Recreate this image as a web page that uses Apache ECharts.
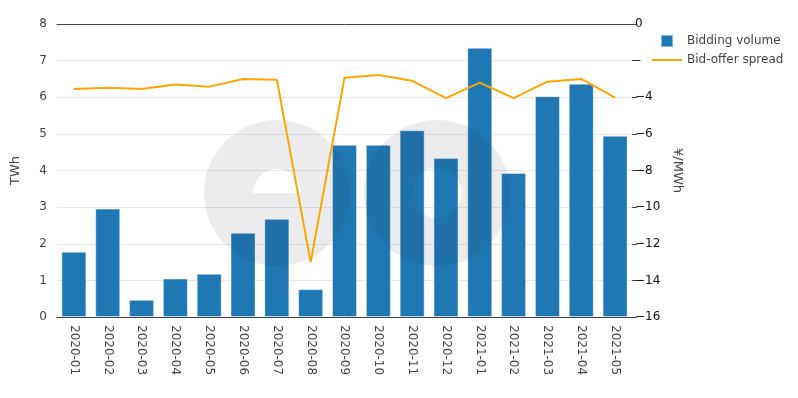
<!DOCTYPE html>
<html>
<head>
<meta charset="utf-8">
<script src="https://cdn.jsdelivr.net/npm/echarts@6/dist/echarts.min.js"></script>
<style>
  html, body { margin: 0; padding: 0; background: #fff; }
  #container { width: 798px; height: 398px; }
</style>
</head>
<body>
<div id="container"></div>
<script>
var months = ['2020-01', '2020-02', '2020-03', '2020-04', '2020-05', '2020-06', '2020-07', '2020-08', '2020-09',
  '2020-10', '2020-11', '2020-12', '2021-01', '2021-02', '2021-03', '2021-04', '2021-05'];
var biddingVolume = [1.78, 2.96, 0.47, 1.05, 1.18, 2.3, 2.68, 0.76, 4.7, 4.7, 5.1, 4.34, 7.35, 3.93, 6.03, 6.37, 4.95];
var bidOfferSpread = [-3.55, -3.48, -3.55, -3.3, -3.42, -3.0, -3.04, -13.0, -2.93, -2.79, -3.1, -4.05, -3.2, -4.05, -3.15, -3.0, -4.02];

var chartDom = document.getElementById('container');
var myChart = echarts.init(chartDom);
var font = 'DejaVu Sans, Verdana, sans-serif';
var shade = 'rgba(40, 40, 70, 0.09)';
var option;

option = {
  animation: false,
  textStyle: { fontFamily: font },
  grid: { left: 57, right: 166, top: 24, bottom: 81 },
  legend: {
    orient: 'vertical',
    left: 647,
    top: 29,
    itemWidth: 30,
    itemHeight: 12,
    itemGap: 6,
    textStyle: { fontSize: 12, color: '#444', fontFamily: font },
    data: [
      { name: 'Bidding volume', icon: 'path://M0,0h12v12h-12z' },
      { name: 'Bid-offer spread', icon: 'path://M0,0h30v2h-30z' }
    ]
  },
  // faded logo watermark behind the line
  graphic: [
    { type: 'ring', z: 3, shape: { cx: 277, cy: 193, r: 73, r0: 24 }, style: { fill: shade } },
    { type: 'sector', z: 3, shape: { cx: 277, cy: 193, r: 24, r0: 0, startAngle: 0, endAngle: Math.PI }, style: { fill: shade } },
    { type: 'ring', z: 3, shape: { cx: 437, cy: 193, r: 73, r0: 25 }, style: { fill: shade } }
  ],
  xAxis: [
    {
      type: 'category',
      data: months,
      axisLine: { lineStyle: { color: '#444', width: 1 } },
      axisTick: { show: false },
      axisLabel: { rotate: -90, color: '#444', fontSize: 12, margin: 8 }
    },
    {
      type: 'category',
      position: 'top',
      data: months,
      axisLine: { lineStyle: { color: '#444', width: 1 } },
      axisTick: { show: false },
      axisLabel: { show: false }
    }
  ],
  yAxis: [
    {
      type: 'value',
      name: 'TWh',
      nameLocation: 'middle',
      nameGap: 35,
      nameRotate: 90,
      nameTextStyle: { color: '#444', fontSize: 13 },
      min: 0,
      max: 8,
      interval: 1,
      axisLine: { show: false },
      axisTick: { show: false },
      axisLabel: { color: '#444', fontSize: 12, margin: 10 },
      splitLine: { lineStyle: { color: '#e8e8e8' } }
    },
    {
      type: 'value',
      name: '¥/MWh',
      nameLocation: 'middle',
      nameGap: 36,
      nameRotate: -90,
      nameTextStyle: { color: '#444', fontSize: 13 },
      position: 'right',
      min: -16,
      max: 0,
      interval: 2,
      axisLine: { show: false },
      axisTick: { show: true, length: 5, lineStyle: { color: '#444' } },
      axisLabel: {
        color: '#111',
        fontSize: 12,
        margin: 3,
        formatter: function (v) {
          if (v === -2) return '\u2013';
          return v < 0 ? '\u2212' + Math.abs(v) : String(v);
        }
      },
      splitLine: { show: false }
    }
  ],
  series: [
    {
      name: 'Bidding volume',
      type: 'bar',
      z: 1,
      barWidth: '74%',
      data: biddingVolume,
      itemStyle: {
        color: '#1f77b4',
        borderColor: 'rgba(255, 255, 255, 0.45)',
        borderWidth: 1
      }
    },
    {
      name: 'Bid-offer spread',
      type: 'line',
      z: 5,
      yAxisIndex: 1,
      data: bidOfferSpread,
      showSymbol: false,
      symbol: 'none',
      lineStyle: { color: '#ffa500', width: 2 },
      itemStyle: { color: '#ffa500' }
    }
  ]
};

option && myChart.setOption(option);
</script>
</body>
</html>
